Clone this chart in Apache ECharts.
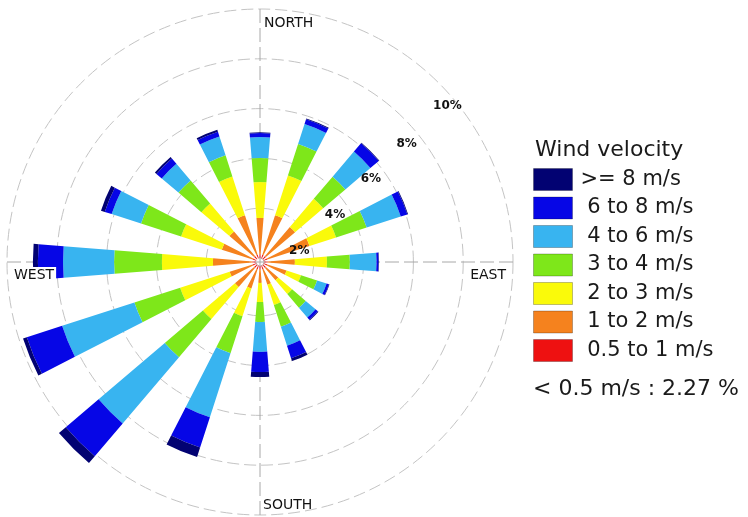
<!DOCTYPE html>
<html>
<head>
<meta charset="utf-8">
<script src="https://cdn.jsdelivr.net/npm/echarts@6/dist/echarts.min.js"></script>
<style>
  html, body { margin: 0; padding: 0; background: #ffffff; }
  #chart { width: 748px; height: 517px; }
</style>
</head>
<body>
<div id="chart"></div>
<script>
// Wind directions, clockwise from north
const directions = ['N', 'NNE', 'NE', 'ENE', 'E', 'ESE', 'SE', 'SSE',
                    'S', 'SSW', 'SW', 'WSW', 'W', 'WNW', 'NW', 'NNW'];

// Frequency (%) of each speed class per direction
const speed05to1 = [0.15, 0.15, 0.15, 0.15, 0.15, 0.15, 0.15, 0.15, 0.15, 0.15, 0.15, 0.15, 0.15, 0.15, 0.15, 0.15];
const speed1to2  = [1.46, 1.66, 1.54, 1.78, 1.09, 0.81, 0.65, 0.65, 0.53, 0.81, 1.01, 0.97, 1.58, 1.30, 1.30, 1.66];
const speed2to3  = [1.44, 1.68, 1.48, 1.12, 1.29, 0.61, 0.73, 0.85, 0.77, 1.17, 1.69, 2.09, 2.05, 1.72, 1.48, 1.64];
const speed3to4  = [0.97, 1.33, 1.17, 1.29, 0.92, 0.68, 0.72, 0.92, 0.80, 1.56, 2.01, 1.93, 1.92, 1.69, 1.21, 0.89];
const speed4to6  = [0.84, 0.84, 1.32, 1.44, 1.07, 0.40, 0.52, 0.80, 1.20, 2.70, 3.49, 3.05, 2.05, 1.24, 0.88, 0.80];
const speed6to8  = [0.16, 0.20, 0.44, 0.28, 0.08, 0.10, 0.12, 0.53, 0.81, 1.28, 1.73, 1.49, 1.01, 0.29, 0.28, 0.20];
const speed8plus = [0.03, 0.04, 0.03, 0.03, 0.02, 0.02, 0.03, 0.12, 0.20, 0.40, 0.36, 0.16, 0.20, 0.16, 0.08, 0.08];

// Share of calm winds (< 0.5 m/s), %
const calmShare = 2.27;

// Radial rings (%)
const ringTicks = [2, 4, 6, 8, 10];
const compassLabels = ['NORTH', 'EAST', 'SOUTH', 'WEST'];

// Speed classes from the centre outwards
const classNames = [' 0.5 to 1 m/s', ' 1 to 2 m/s', ' 2 to 3 m/s', ' 3 to 4 m/s', ' 4 to 6 m/s', ' 6 to 8 m/s', '>= 8 m/s'];
const classData = [speed05to1, speed1to2, speed2to3, speed3to4, speed4to6, speed6to8, speed8plus];
const classColors = ['#ee1111', '#f5821e', '#fafa0a', '#7ee71a', '#38b4f0', '#0606e6', '#020272'];

const FONT = '"DejaVu Sans", Verdana, sans-serif';
const CENTER = [260, 262];
const OUTER = 253;

const chart = echarts.init(document.getElementById('chart'), null, { renderer: 'canvas' });

const series = classNames.map((name, i) => ({
  type: 'bar',
  name: name,
  coordinateSystem: 'polar',
  polarIndex: 0,
  stack: 'rose',
  data: classData[i],
  barWidth: '41%',
  clip: false,
  silent: true,
  itemStyle: { color: classColors[i] }
}));

const option = {
  animation: false,
  backgroundColor: '#ffffff',
  title: {
    text: 'Wind velocity',
    left: 535,
    top: 139,
    padding: 0,
    textStyle: { fontFamily: FONT, fontSize: 22, fontWeight: 'normal', color: '#1a1a1a' }
  },
  legend: {
    orient: 'vertical',
    left: 533,
    top: 168,
    padding: 0,
    itemWidth: 39,
    itemHeight: 22,
    itemGap: 5.5,
    icon: 'rect',
    selectedMode: false,
    data: classNames.slice().reverse(),
    itemStyle: { borderColor: 'rgba(0,0,0,0.25)', borderWidth: 1 },
    textStyle: { fontFamily: FONT, fontSize: 21, color: '#1a1a1a', lineHeight: 22, padding: [0, 0, 0, 3] }
  },
  polar: [
    { center: CENTER, radius: [4, OUTER] },
    { center: CENTER, radius: [0, OUTER] }
  ],
  angleAxis: [
    {
      polarIndex: 0,
      type: 'category',
      data: directions,
      startAngle: 90 + 360 / directions.length / 2,
      axisLine: { show: false },
      axisTick: { show: false },
      axisLabel: { show: false },
      splitLine: { show: false }
    },
    {
      polarIndex: 1,
      type: 'value',
      min: 0,
      max: 360,
      interval: 90,
      startAngle: 90,
      axisLine: { show: false },
      axisTick: { show: false },
      axisLabel: { show: false },
      splitLine: { show: true, lineStyle: { color: '#a8a8a8', width: 1, type: [14, 5] } }
    }
  ],
  radiusAxis: [
    {
      polarIndex: 0,
      type: 'value',
      min: 0,
      max: ringTicks[ringTicks.length - 1],
      interval: 2,
      axisLine: { show: false },
      axisTick: { show: false },
      axisLabel: { show: false },
      splitLine: { show: true, lineStyle: { color: '#c4c4c4', width: 1, type: [12, 5] } }
    },
    {
      polarIndex: 1,
      type: 'value',
      min: 0,
      max: ringTicks[ringTicks.length - 1],
      show: false
    }
  ],
  series: series
};

chart.setOption(option);

// Text placed relative to the polar frame
const maxRing = ringTicks[ringTicks.length - 1];
const toPx = (r, deg) => chart.convertToPixel({ polarIndex: 1 }, [r, deg]);

const compassPlacement = [
  { deg: 0,   dx: 4,  dy: 14,  align: 'left' },
  { deg: 90,  dx: -7, dy: 13,  align: 'right' },
  { deg: 180, dx: 3,  dy: -10, align: 'left' },
  { deg: 270, dx: 6,  dy: 13,  align: 'left', bg: true }
];

const graphics = [];
compassLabels.forEach((txt, i) => {
  const p = compassPlacement[i];
  const pt = toPx(maxRing, p.deg);
  const style = {
    text: txt,
    font: '14px ' + FONT,
    fill: '#111111',
    align: p.align,
    verticalAlign: 'middle'
  };
  if (p.bg) { style.backgroundColor = '#ffffff'; style.padding = [1, 2, 1, 1]; }
  graphics.push({ type: 'text', x: pt[0] + p.dx, y: pt[1] + p.dy, z: 100, style: style });
});

ringTicks.forEach(v => {
  const pt = toPx(v, 45);
  graphics.push({
    type: 'text',
    x: pt[0] + 3.5 + (v === maxRing ? 5 : 0),
    y: pt[1] + 24.7 - (v === maxRing ? 2 : 0),
    z: 100,
    style: {
      text: v + '%',
      font: 'bold 12px ' + FONT,
      fill: '#111111',
      align: 'center',
      verticalAlign: 'middle'
    }
  });
});

graphics.push({
  type: 'text',
  x: 533,
  y: 389,
  z: 100,
  style: {
    text: '< 0.5 m/s : ' + calmShare.toFixed(2) + ' %',
    font: '22px ' + FONT,
    fill: '#1a1a1a',
    align: 'left',
    verticalAlign: 'middle'
  }
});

chart.setOption({ graphic: graphics });
</script>
</body>
</html>
